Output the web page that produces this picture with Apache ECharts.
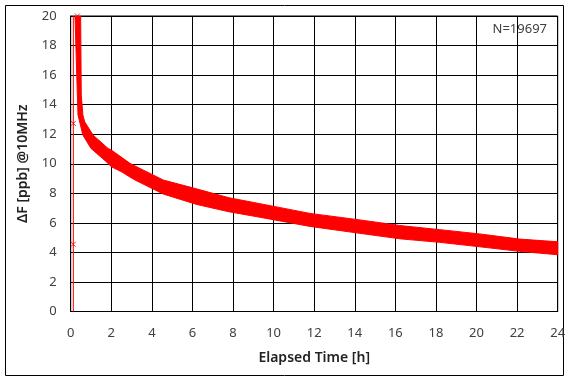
<!DOCTYPE html>
<html>
<head>
<meta charset="utf-8">
<script src="https://cdn.jsdelivr.net/npm/echarts@6/dist/echarts.min.js"></script>
<style>html,body{margin:0;padding:0;background:#fff}#c{width:571px;height:381px}</style>
</head>
<body>
<div id="c"></div>
<script>
// Upper (right) edge of the red data band: elapsed time [h], ΔF [ppb]
var upperT = [0.49, 0.52, 0.6, 0.69, 1.1, 1.84, 2.0, 2.92, 3.17, 4.56, 6.2, 7.8, 9.32, 11.79, 14.25, 16.22, 18.19, 20.16, 22.13, 24.0];
var upperV = [20.1, 14.65, 13.3, 12.84, 11.94, 11.04, 10.93, 10.03, 9.85, 8.9, 8.3, 7.7, 7.3, 6.64, 6.2, 5.82, 5.54, 5.25, 4.9, 4.72];
// Lower (left) edge of the red data band
var lowerT = [0.21, 0.3, 0.36, 0.6, 1.0, 1.75, 2.0, 2.5, 2.92, 3.17, 4.56, 6.2, 7.8, 9.32, 11.79, 14.25, 16.22, 18.19, 20.16, 22.13, 24.0];
var lowerV = [20.1, 15.9, 13.3, 11.94, 11.04, 10.14, 9.8, 9.46, 9.1, 8.9, 7.95, 7.25, 6.75, 6.38, 5.76, 5.29, 4.92, 4.68, 4.38, 4.07, 3.84];
// Stray points and spike line
var strayPts = [[0.13, 12.73], [0.13, 4.55], [0.33, 20.0]];
var spikeLine = [[0.13, 0], [0.13, 20]];
var xTicks = [0, 2, 4, 6, 8, 10, 12, 14, 16, 18, 20, 22, 24];
var yTicks = [0, 2, 4, 6, 8, 10, 12, 14, 16, 18, 20];
var nLabel = 'N=19697';

var chart = echarts.init(document.getElementById('c'), null, {renderer: 'canvas'});
var font = 'Noto Sans';
chart.setOption({
  animation: false,
  backgroundColor: '#fff',
  grid: {left: 70.7, right: 13.3, top: 16, bottom: 69.5, show: true, borderColor: '#000', borderWidth: 1},
  graphic: [
    {type: 'rect', shape: {x: 5.5, y: 5.5, width: 558, height: 370}, style: {fill: 'none', stroke: '#000', lineWidth: 1}, z: -1},
    {type: 'text', right: 24, top: 23, style: {text: nLabel, fill: '#404040', font: '13px "Noto Sans"'}}
  ],
  xAxis: {
    type: 'value', min: xTicks[0], max: xTicks[xTicks.length - 1], interval: 2,
    name: 'Elapsed Time [h]', nameLocation: 'middle', nameGap: 40,
    nameTextStyle: {fontFamily: font, fontSize: 14, fontWeight: 600, color: '#222'},
    axisLine: {lineStyle: {color: '#000', width: 1}},
    axisTick: {show: false},
    axisLabel: {fontFamily: font, fontSize: 13, color: '#404040', margin: 15},
    splitLine: {show: true, lineStyle: {color: '#000', width: 1}}
  },
  yAxis: {
    type: 'value', min: yTicks[0], max: yTicks[yTicks.length - 1], interval: 2,
    name: 'ΔF [ppb] @10MHz', nameLocation: 'middle', nameGap: 41,
    nameTextStyle: {fontFamily: font, fontSize: 14, fontWeight: 600, color: '#222'},
    axisLine: {show: true, lineStyle: {color: '#000', width: 1}},
    axisTick: {show: false},
    axisLabel: {fontFamily: font, fontSize: 13, color: '#404040', margin: 14},
    splitLine: {show: true, lineStyle: {color: '#000', width: 1}}
  },
  series: [
    {
      type: 'custom',
      data: [[upperT[0], upperV[0]]],
      clip: true,
      renderItem: function (params, api) {
        var up = [], lo = [];
        for (var i = 0; i < upperT.length; i++) up.push(api.coord([upperT[i], upperV[i]]));
        for (var j = lowerT.length - 1; j >= 0; j--) lo.push(api.coord([lowerT[j], lowerV[j]]));
        return {
          type: 'polygon',
          shape: {points: up.concat(lo), smooth: 0},
          style: {fill: '#ff0000', stroke: '#ff0000', lineWidth: 1}
        };
      },
      z: 3
    },
    {
      type: 'line', data: spikeLine, symbol: 'none',
      lineStyle: {color: '#ff0000', width: 1}, z: 4
    },
    {
      type: 'scatter', data: strayPts,
      symbol: 'path://M0,0L10,10M10,0L0,10', symbolSize: 5,
      itemStyle: {color: 'none', borderColor: '#ff0000', borderWidth: 1}, z: 5
    }
  ]
});
</script>
</body>
</html>
